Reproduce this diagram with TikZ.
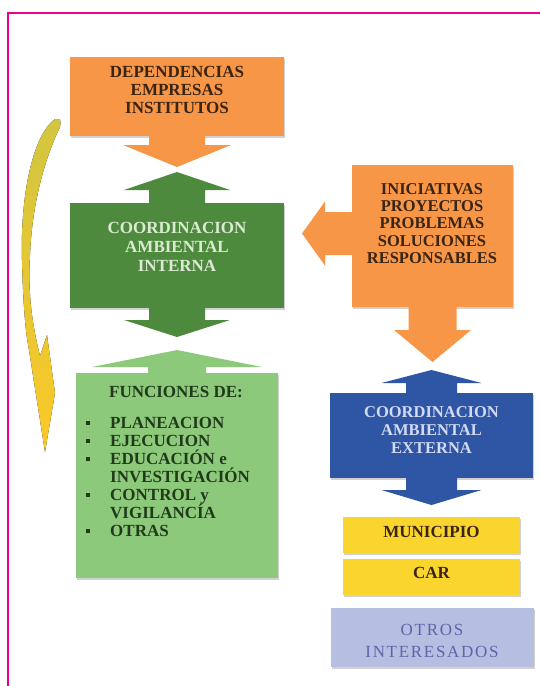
\documentclass[tikz,border=0pt]{standalone}
\usepackage{fontspec}
\setmainfont{Liberation Serif}
\usetikzlibrary{calc,shadows}

\definecolor{framec}{HTML}{EC008C}
\definecolor{orangec}{HTML}{F79646}
\definecolor{dgreen}{HTML}{4E8A3E}
\definecolor{lgreen}{HTML}{8DC97B}
\definecolor{bluec}{HTML}{2F55A5}
\definecolor{yellowc}{HTML}{FAD52E}
\definecolor{lavc}{HTML}{B6BEE2}
\definecolor{txtbrown}{HTML}{3A2414}
\definecolor{txtgreen}{HTML}{213A1A}
\definecolor{txtlgreen}{HTML}{DCEAD3}
\definecolor{txtlblue}{HTML}{D3DAF2}
\definecolor{txtlav}{HTML}{5E64A8}
\definecolor{yolive}{HTML}{D2C640}

\tikzset{
  box/.style={rectangle, inner sep=0pt, outer sep=0pt,
    drop shadow={shadow xshift=1pt, shadow yshift=-1.5pt, opacity=.18, fill=black}},
  lbl/.style={font=\bfseries\fontsize{17}{18}\selectfont, align=center,
    inner sep=0pt, text=txtbrown},
  % block arrow pointing along local +y: shaft half width / shaft length / head half width / total length
  pics/blockarrow/.style args={#1/#2/#3/#4}{code={
    \path[pic actions] (-#1,-1) -- (-#1,#2) -- (-#3,#2) -- (0,#4)
      -- (#3,#2) -- (#1,#2) -- (#1,-1) -- cycle;}},
}
\newcommand{\bul}{\rule[3.3pt]{4pt}{4pt}}

\begin{document}
\begin{tikzpicture}[x=1pt,y=-1pt]
\useasboundingbox (0,0) rectangle (539,686);
\fill[white] (0,0) rectangle (539,686);

% frame
\draw[framec, line width=2.4pt] (8,700) -- (8,13) -- (560,13);

% curved yellow arrow on the left
\fill[top color=yolive, bottom color=yellowc!85!orange]
  (55,119) .. controls (33,135) and (20,195) .. (22,260)
  .. controls (23,300) and (25,330) .. (29,350)
  -- (45,452) -- (55,393) -- (47,335) -- (40,356)
  .. controls (31,320) and (28,290) .. (30,255)
  .. controls (32,205) and (44,160) .. (60,127)
  .. controls (61,119) .. cycle;

% boxes
\node[box, fill=orangec, minimum width=214pt, minimum height=79pt] (dep) at (177,96.5) {};
\node[box, fill=dgreen, minimum width=214pt, minimum height=105pt] (cai) at (177,255.5) {};
\node[box, fill=lgreen, minimum width=202pt, minimum height=205pt] (fun) at (177,475.5) {};
\node[box, fill=orangec, minimum width=161pt, minimum height=142pt] (ini) at (432.5,236) {};
\node[box, fill=bluec, minimum width=203pt, minimum height=85pt] (cae) at (431.5,435.5) {};
\node[box, fill=yellowc, minimum width=177pt, minimum height=36pt] (mun) at (431.5,535) {};
\node[box, fill=yellowc, minimum width=177pt, minimum height=36pt] (car) at (431.5,577) {};
\node[box, fill=lavc, minimum width=203pt, minimum height=59pt] (otr) at (432.5,637.5) {};

% block arrows
\pic[fill=orangec] at (dep.south) {blockarrow=28/9/54/31};
\pic[fill=dgreen, rotate=180] at (cai.north) {blockarrow=28/13/53/31};
\pic[fill=dgreen] at (cai.south) {blockarrow=28/12/53/29};
\pic[fill=lgreen, rotate=180] at (fun.north) {blockarrow=29/6/85/23};
\pic[fill=orangec, rotate=-90] at ($(ini.west)+(0,-2.5)$) {blockarrow=21.5/27/32/50};
\pic[fill=orangec] at (ini.south) {blockarrow=24/23/38.5/55};
\pic[fill=bluec, rotate=180] at (cae.north) {blockarrow=25.5/10/50/23};
\pic[fill=bluec] at (cae.south) {blockarrow=25.5/12/50/27};

% texts
\node[lbl] (dep-t) at (177,90) {DEPENDENCIAS\\EMPRESAS\\INSTITUTOS};
\node[lbl, text=txtlgreen, font=\bfseries\fontsize{17}{19}\selectfont] (cai-t) at (177,247)
  {COORDINACION\\AMBIENTAL\\INTERNA};
\node[lbl, font=\bfseries\fontsize{16.5}{17.3}\selectfont] (ini-t) at (432,223.5)
  {INICIATIVAS\\PROYECTOS\\PROBLEMAS\\SOLUCIONES\\RESPONSABLES};
\node[lbl, text=txtgreen] (fun-t) at (176,392) {FUNCIONES DE:};
\node[lbl, text=txtgreen, anchor=base west, align=left] (fun-l) at (86,428.3)
  {\begin{tabular}[t]{@{}l@{\hspace{20pt}}l@{}}
   \bul & PLANEACION\\
   \bul & EJECUCION\\
   \bul & \smash{EDUCACIÓN e}\\
        & \smash{INVESTIGACIÓN}\\
   \bul & CONTROL y\\
        & \smash{VIGILANCÍA}\\
   \bul & OTRAS
   \end{tabular}};
\node[lbl, text=txtlblue, font=\bfseries\fontsize{16.5}{18}\selectfont] (cae-t) at (431.5,430)
  {COORDINACION\\AMBIENTAL\\EXTERNA};
\node[lbl] (mun-t) at (431.5,532) {MUNICIPIO};
\node[lbl] (car-t) at (431.5,573) {CAR};
\node[lbl, text=txtlav, font=\fontsize{17}{22}\selectfont\addfontfeature{LetterSpace=10}] (otr-t) at (432,641)
  {OTROS\\INTERESADOS};
\end{tikzpicture}
\end{document}
